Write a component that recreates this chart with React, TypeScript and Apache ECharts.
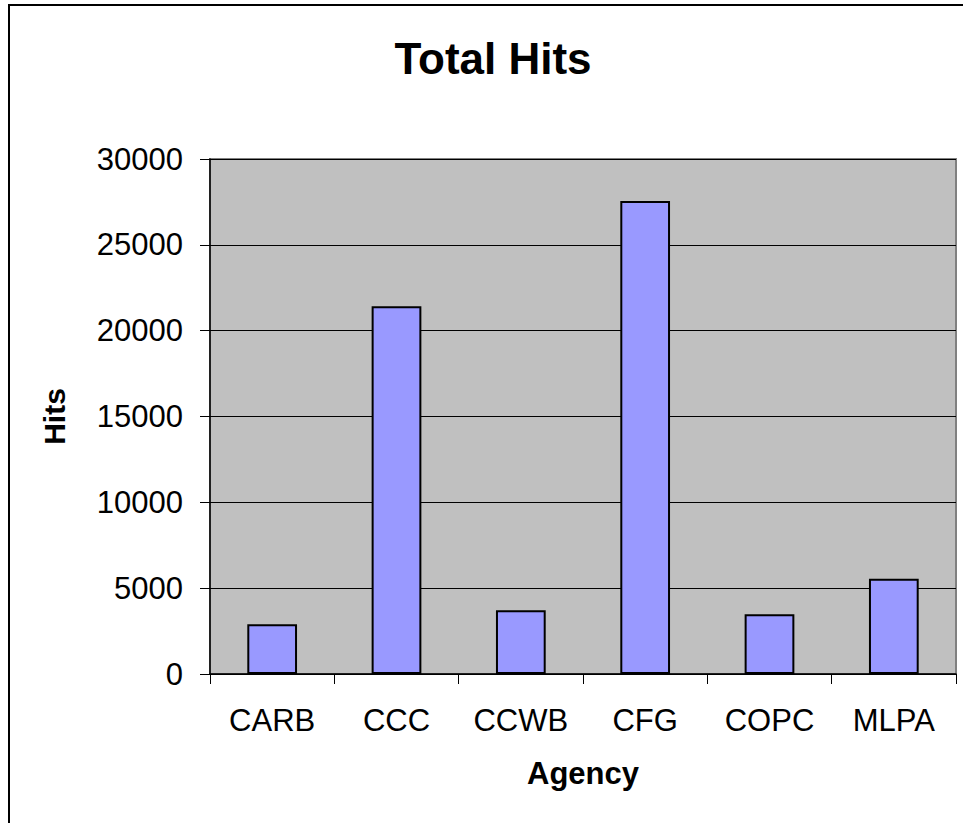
import React, { useEffect, useRef } from "react";
import * as echarts from "echarts";

const categories = ["CARB", "CCC", "CCWB", "CFG", "COPC", "MLPA"];
const hits = [2900, 21420, 3720, 27560, 3480, 5550];
const yTicks = { min: 0, max: 30000, interval: 5000 };

const FONT = "'Liberation Sans', Arial, Helvetica, sans-serif";

export default function App() {
  const ref = useRef<HTMLDivElement>(null);
  useEffect(() => {
    if (!ref.current) return;
    const chart = echarts.init(ref.current, undefined, { renderer: "svg" });
    chart.setOption({
      animation: false,
      backgroundColor: "#ffffff",
      title: {
        text: "Total Hits",
        left: 488,
        top: 31,
        textAlign: "center",
        textStyle: { fontFamily: FONT, fontSize: 44, fontWeight: "bold", color: "#000" },
      },
      graphic: [
        {
          type: "rect",
          shape: { x: 9, y: 5, width: 1000, height: 1000 },
          style: { fill: "none", stroke: "#000", lineWidth: 2 },
          z: 100,
        },
      ],
      grid: {
        left: 210,
        right: 7,
        top: 159,
        bottom: 149,
        show: true,
        backgroundColor: "#C0C0C0",
        borderColor: "#808080",
        borderWidth: 2,
        containLabel: false,
      },
      xAxis: {
        type: "category",
        data: categories,
        name: "Agency",
        nameLocation: "middle",
        nameGap: 84,
        nameTextStyle: { fontFamily: FONT, fontSize: 31, fontWeight: "bold", color: "#000" },
        axisLine: { show: true, lineStyle: { color: "#000", width: 1.5 } },
        axisTick: { show: true, length: 10, interval: 0, lineStyle: { color: "#000", width: 1 } },
        axisLabel: { fontFamily: FONT, fontSize: 31, color: "#000", margin: 31, interval: 0 },
        splitLine: { show: false },
      },
      yAxis: {
        type: "value",
        min: yTicks.min,
        max: yTicks.max,
        interval: yTicks.interval,
        name: "Hits",
        nameLocation: "middle",
        nameGap: 141,
        nameRotate: 90,
        nameTextStyle: { fontFamily: FONT, fontSize: 30, fontWeight: "bold", color: "#000" },
        axisLine: { show: true, lineStyle: { color: "#000", width: 1.5 } },
        axisTick: { show: true, length: 10, lineStyle: { color: "#000", width: 1 } },
        axisLabel: {
          fontFamily: FONT,
          fontSize: 31,
          color: "#000",
          margin: 27,
          formatter: (v: number) => String(v),
        },
        splitLine: { show: true, lineStyle: { color: "#000", width: 1 } },
      },
      series: [
        {
          type: "bar",
          data: hits,
          barWidth: "40%",
          itemStyle: { color: "#9999FF", borderColor: "#000", borderWidth: 2 },
        },
      ],
    });
    return () => chart.dispose();
  }, []);
  return (
    <div
      ref={ref}
      style={{ position: "fixed", left: 0, top: 0, width: 963, height: 823 }}
    />
  );
}
